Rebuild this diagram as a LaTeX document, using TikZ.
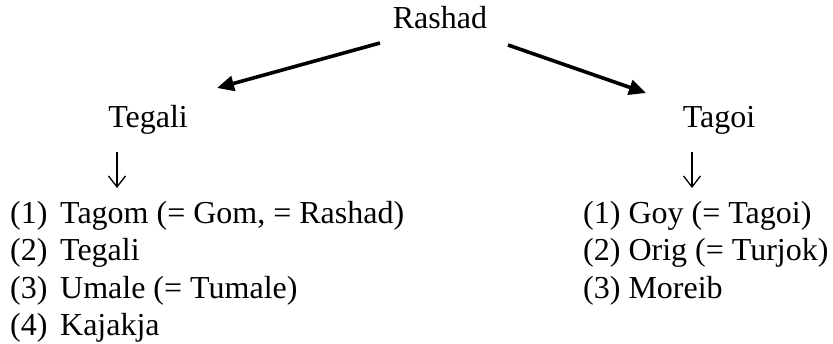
\documentclass[tikz,border=0pt]{standalone}
\usepackage{fontspec}
\setmainfont{Liberation Serif}
\usetikzlibrary{arrows.meta}
\tikzset{
  lbl/.style={inner sep=0pt, font=\fontsize{32}{37.5}\selectfont},
  item/.style={lbl, anchor=base west},
  bigarrow/.style={line width=3.6pt, -{Triangle[length=17pt,width=15pt]}},
  thinarrow/.style={line width=1.3pt, -{Straight Barb[length=11pt,width=17pt,line width=1.3pt]}},
}
\newcommand{\numbox}[1]{\makebox[50pt][l]{#1}}
\begin{document}
\begin{tikzpicture}[x=1pt,y=-1pt]
\useasboundingbox (0,0) rectangle (833,343);
\node[lbl, anchor=base] (rashad) at (440,28) {Rashad};
\node[lbl, anchor=base] (tegali) at (148,127) {Tegali};
\node[lbl, anchor=base] (tagoi) at (719,127) {Tagoi};
\coordinate (la) at (380,43);
\coordinate (lb) at (217,88);
\coordinate (ra) at (508,45);
\coordinate (rb) at (646,93);
\draw[bigarrow] (la) -- (lb);
\draw[bigarrow] (ra) -- (rb);
\coordinate (dla) at (117,152);
\coordinate (dlb) at (117,188);
\coordinate (dra) at (692,152);
\coordinate (drb) at (692,188);
\draw[thinarrow] (dla) -- (dlb);
\draw[thinarrow] (dra) -- (drb);
\node[item] (l1) at (10,223) {\numbox{(1)}Tagom (= Gom, = Rashad)};
\node[item] (l2) at (10,260.5) {\numbox{(2)}Tegali};
\node[item] (l3) at (10,298) {\numbox{(3)}Umale (= Tumale)};
\node[item] (l4) at (10,335) {\numbox{(4)}Kajakja};
\node[item] (r1) at (583,223) {(1) Goy (= Tagoi)};
\node[item] (r2) at (583,260.5) {(2) Orig (= Turjok)};
\node[item] (r3) at (583,298) {(3) Moreib};
\end{tikzpicture}
\end{document}
